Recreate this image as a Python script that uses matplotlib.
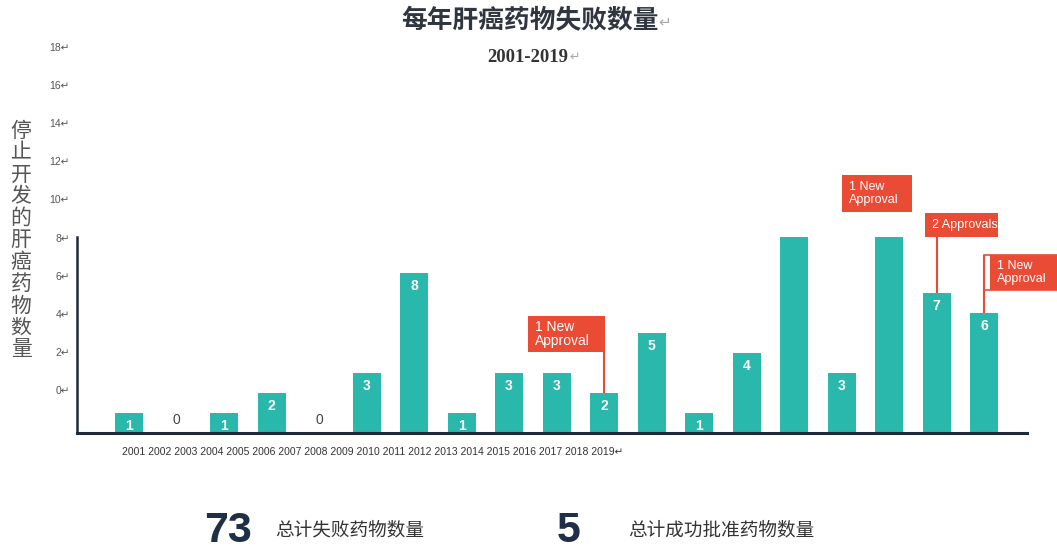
import matplotlib
matplotlib.use("Agg")
import matplotlib.pyplot as plt
from matplotlib.patches import Rectangle
import numpy as np

# ---------------- data ----------------
years = ["2001", "2002", "2003", "2004", "2005", "2006", "2007", "2008", "2009", "2010",
         "2011", "2012", "2013", "2014", "2015", "2016", "2017", "2018", "2019"]
failures = [1, 0, 1, 2, 0, 3, 8, 1, 3, 3, 2, 5, 1, 4, 9.8, 3, 9.8, 7, 6]
show_label = [True] * 14 + [False, True, False, True, True]
ytick_values = [0, 2, 4, 6, 8, 10, 12, 14, 16, 18]
title = "每年肝癌药物失败数量"
subtitle = "2001-2019"
ylabel = "停止开发的肝癌药物数量"
total_failed = 73
total_failed_label = "总计失败药物数量"
total_approved = 5
total_approved_label = "总计成功批准药物数量"
# approvals annotations: (bar index, text)
approval_notes = [(10, "1 New\nApproval"), (15, "1 New\nApproval"),
                  (17, "2 Approvals"), (18, "1 New\nApproval")]

TEAL = "#29b8ab"
RED = "#e94b35"
NAVY = "#1e2b3a"
W, H = 1057, 549

fig = plt.figure(figsize=(W / 100, H / 100), dpi=100)
fig.patch.set_facecolor("white")

def fx(px):
    return px / W

def fy(py):
    return 1 - py / H

ax_left, ax_right, ax_top, ax_bottom = 77, 1027, 30, 433
rect = [fx(ax_left), fy(ax_bottom), (ax_right - ax_left) / W, (ax_bottom - ax_top) / H]

# decorative y tick axis (drawn behind)
ax2 = fig.add_axes(rect, frameon=False)
ax2.set_ylim(-2.256, 18.89)
ax2.set_xticks([])
ax2.set_yticks(ytick_values)
ax2.set_yticklabels([f"{v}\u21b5" for v in ytick_values],
                    fontsize=7.5, color="#555555", family=["Liberation Sans", "DejaVu Sans"])
ax2.tick_params(axis="y", length=0, pad=5)

ax = fig.add_axes(rect, frameon=True)
ax.patch.set_alpha(0)
x = np.arange(len(years))
ax.bar(x, failures, width=0.59, color=TEAL, zorder=2)
ax.set_xlim(-1.095, 18.905)
ax.set_ylim(0, 20.15)
ax.set_xticks([])
ax.set_yticks([])
for s in ["top", "right"]:
    ax.spines[s].set_visible(False)
ax.spines["bottom"].set_color(NAVY)
ax.spines["bottom"].set_linewidth(2.2)
ax.spines["left"].set_color(NAVY)
ax.spines["left"].set_linewidth(1.8)
ax.spines["left"].set_bounds(0, max(failures))

for i, (v, sh) in enumerate(zip(failures, show_label)):
    if not sh:
        continue
    if v == 0:
        ax.annotate(f"{v:g}", xy=(i, v), xytext=(0, 4), textcoords="offset points",
                    ha="center", va="bottom", fontsize=10, color="#444444",
                    family="Liberation Sans", zorder=3)
    else:
        ax.annotate(f"{v:g}", xy=(i, v), xytext=(0, -4), textcoords="offset points",
                    ha="center", va="top", fontsize=10, color="white",
                    fontweight="bold", family="Liberation Sans", zorder=3)

# approval boxes (layout in data units)
box_layout = {
    10: dict(x0=8.40, x1=10.02, y0=4.05, y1=5.85, line=True, fs=10),
    15: dict(x0=15.01, x1=16.48, y0=11.05, y1=12.9, line=False, fs=9),
    17: dict(x0=16.76, x1=18.29, y0=9.8, y1=11.0, line=True, fs=9),
    18: dict(x0=18.13, x1=19.6, y0=7.15, y1=8.9, line=True, fs=9),
}
for idx, txt in approval_notes:
    b = box_layout[idx]
    ax.add_patch(Rectangle((b["x0"], b["y0"]), b["x1"] - b["x0"], b["y1"] - b["y0"],
                           facecolor=RED, edgecolor="none", zorder=4, clip_on=False))
    if b["line"]:
        ax.vlines(idx, failures[idx], b["y0"] if idx != 18 else b["y1"],
                  color=RED, lw=1.5, zorder=4)
    ax.text(b["x0"] + 0.15, (b["y0"] + b["y1"]) / 2, txt, ha="left", va="center",
            fontsize=b["fs"], color="white", family="Liberation Sans", linespacing=1.05,
            zorder=5, clip_on=False)
# outline of last box
b = box_layout[18]
ax.add_patch(Rectangle((18.0, b["y0"]), b["x1"] - 18.0, b["y1"] - b["y0"],
                       facecolor="none", edgecolor=RED, lw=1.2, zorder=4, clip_on=False))

# x labels as one line of text
fig.text(fx(122), fy(452), " ".join(years) + "\u21b5", ha="left", va="center",
         fontsize=7.45, color="#333333", family=["Liberation Sans", "DejaVu Sans"])

# titles
fig.text(fx(530), fy(21), title, ha="center", va="center", fontsize=18.5,
         fontweight="bold", color="#2f3640", family=["Noto Sans CJK SC", "DejaVu Sans"])
fig.text(fx(658), fy(22), "\u21b5", ha="left", va="center", fontsize=11,
         color="#aaaaaa", family="DejaVu Sans")
fig.text(fx(528), fy(57), subtitle, ha="center", va="center", fontsize=13.5,
         fontweight="bold", color="#333333", family="Liberation Serif")
fig.text(fx(569), fy(57), "\u21b5", ha="left", va="center", fontsize=9,
         color="#aaaaaa", family="DejaVu Sans")

# y label stacked vertically
fig.text(fx(21), fy(240), "\n".join(ylabel), ha="center", va="center", fontsize=15,
         color="#555555", family=["Noto Sans CJK SC", "DejaVu Sans"], linespacing=0.99)

# totals
fig.text(fx(228), fy(531), str(total_failed), ha="center", va="center", fontsize=31,
         fontweight="bold", color="#1f2f45", family="Liberation Sans")
fig.text(fx(275), fy(530), total_failed_label, ha="left", va="center", fontsize=13.4,
         color="#333333", family=["Noto Sans CJK SC", "DejaVu Sans"])
fig.text(fx(569), fy(531), str(total_approved), ha="center", va="center", fontsize=31,
         fontweight="bold", color="#1f2f45", family="Liberation Sans")
fig.text(fx(628), fy(530), total_approved_label, ha="left", va="center", fontsize=13.4,
         color="#333333", family=["Noto Sans CJK SC", "DejaVu Sans"])

fig.savefig("out.png", dpi=100)
